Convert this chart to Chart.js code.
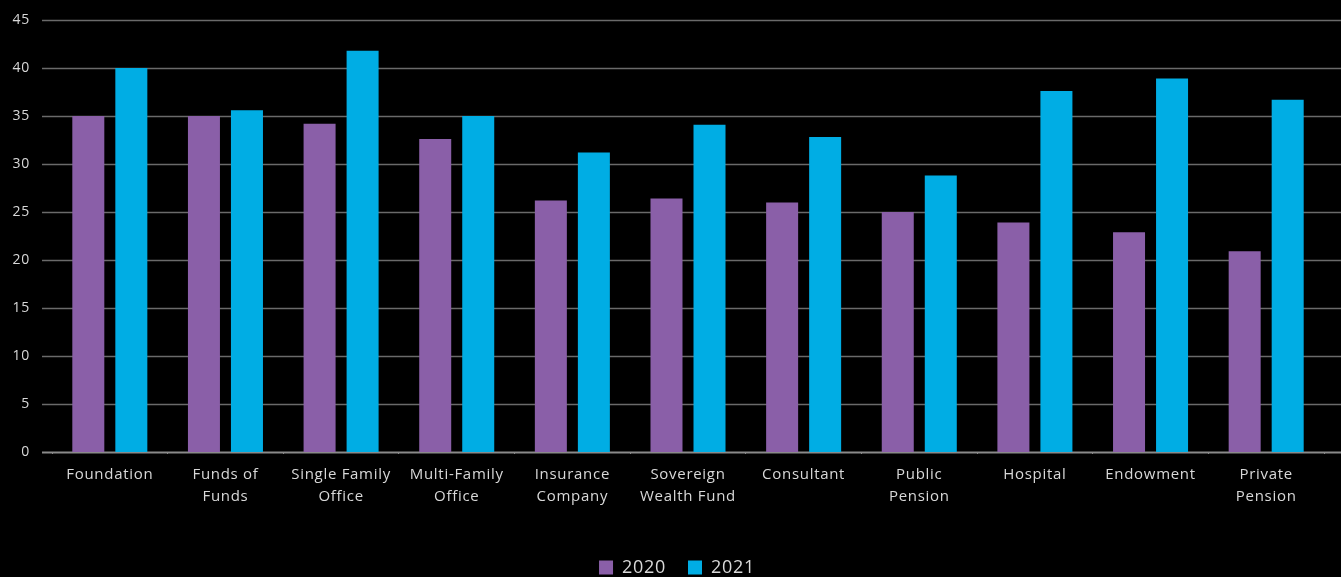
<!DOCTYPE html>
<html>
<head>
<meta charset="utf-8">
<script src="https://cdn.jsdelivr.net/npm/chart.js@4/dist/chart.umd.min.js"></script>
<style>
  html, body { margin: 0; padding: 0; background: #000; }
  #wrap { width: 1341px; height: 577px; position: relative; }
</style>
</head>
<body>
<div id="wrap"><canvas id="chart"></canvas></div>
<script>
// Investor types (multi-line labels wrap under each group)
const categories = [
  'Foundation',
  ['Funds of', 'Funds'],
  ['Single Family', 'Office'],
  ['Multi-Family', 'Office'],
  ['Insurance', 'Company'],
  ['Sovereign', 'Wealth Fund'],
  'Consultant',
  ['Public', 'Pension'],
  'Hospital',
  'Endowment',
  ['Private', 'Pension']
];
const values2020 = [35, 35, 34.2, 32.6, 26.2, 26.4, 26.0, 25.0, 23.9, 22.9, 20.9];
const values2021 = [40, 35.6, 41.8, 35.0, 31.2, 34.1, 32.8, 28.8, 37.6, 38.9, 36.7];
const yTicks = [0, 5, 10, 15, 20, 25, 30, 35, 40, 45];

const PURPLE = '#8A5FA8';
const CYAN = '#00ADE4';
const TEXT = '#d8d8d8';
const FONT = '"Open Sans", Lato, sans-serif';

// Slightly open tracking for all canvas text
const tracking = {
  id: 'tracking',
  beforeLayout(chart) { chart.ctx.letterSpacing = '0.7px'; },
  beforeDraw(chart) { chart.ctx.letterSpacing = '0.7px'; }
};

// Nudge the legend row so it sits centred under the plot
const legendNudge = {
  id: 'legendNudge',
  afterLayout(chart) {
    const lg = chart.legend;
    if (lg) { lg.left += 15; lg.right += 15; }
  }
};

// Horizontal gridlines run the full width of the canvas, behind the bars
const fullWidthGrid = {
  id: 'fullWidthGrid',
  beforeDatasetsDraw(chart) {
    const { ctx, scales: { y } } = chart;
    ctx.save();
    yTicks.forEach(v => {
      const py = Math.round(y.getPixelForValue(v));
      ctx.beginPath();
      ctx.strokeStyle = v === 0 ? '#8a8a8a' : '#6a6a6a';
      ctx.lineWidth = v === 0 ? 2 : 1.3;
      ctx.moveTo(42, py + 0.5);
      ctx.lineTo(chart.width, py + 0.5);
      ctx.stroke();
    });
    ctx.restore();
  }
};

new Chart(document.getElementById('chart'), {
  type: 'bar',
  data: {
    labels: categories,
    datasets: [
      { label: '2020', data: values2020, backgroundColor: PURPLE },
      { label: '2021', data: values2021, backgroundColor: CYAN }
    ]
  },
  options: {
    responsive: true,
    maintainAspectRatio: false,
    animation: false,
    devicePixelRatio: 1,
    categoryPercentage: 0.744,
    barPercentage: 0.744,
    layout: { padding: { top: 20, right: 17, left: 0, bottom: -9.5 } },
    plugins: {
      tooltip: { enabled: false },
      legend: {
        position: 'bottom',
        labels: {
          color: TEXT,
          font: { family: FONT, size: 18 },
          boxWidth: 14,
          boxHeight: 14,
          padding: 22,
          generateLabels(chart) {
            return chart.data.datasets.map((ds, i) => ({
              text: ds.label,
              fillStyle: ds.backgroundColor,
              strokeStyle: ds.backgroundColor,
              lineWidth: 0,
              fontColor: TEXT,
              datasetIndex: i,
              hidden: false
            }));
          }
        }
      }
    },
    scales: {
      x: {
        offset: true,
        border: { display: false },
        grid: {
          offset: true,
          drawOnChartArea: false,
          drawTicks: true,
          tickLength: 2,
          color: '#8a8a8a'
        },
        ticks: {
          color: TEXT,
          font: { family: FONT, size: 15, lineHeight: 1.45 },
          padding: 10,
          maxRotation: 0,
          autoSkip: false
        },
        afterFit(scale) { scale.height = 84.5; }
      },
      y: {
        min: 0,
        max: 45,
        border: { display: false },
        grid: { display: false, drawTicks: false },
        ticks: {
          stepSize: 5,
          color: TEXT,
          font: { family: FONT, size: 14 },
          padding: 22
        },
        afterFit(scale) {
          scale.width = 52;
          scale.paddingTop = 0;
          scale.paddingBottom = 0;
        }
      }
    }
  },
  plugins: [tracking, legendNudge, fullWidthGrid]
});
</script>
</body>
</html>
